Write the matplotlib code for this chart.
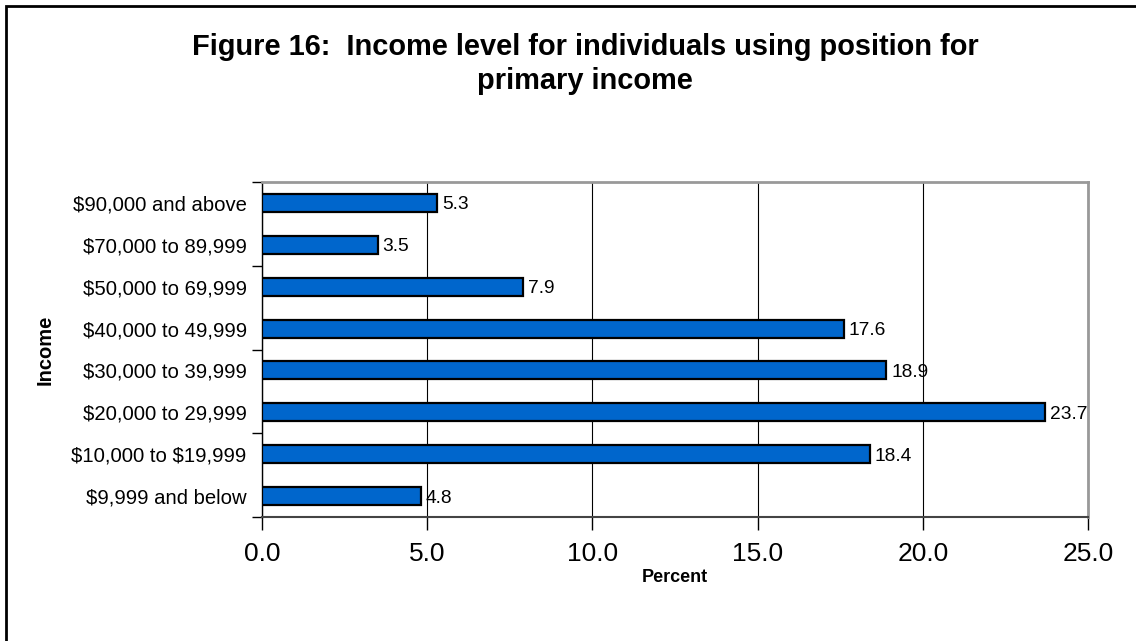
import matplotlib.pyplot as plt
from matplotlib.patches import Rectangle
from matplotlib.ticker import FixedLocator

plt.rcParams['font.family'] = ['Liberation Sans', 'DejaVu Sans']

categories = ['\\$9,999 and below', '\\$10,000 to \\$19,999', '\\$20,000 to 29,999',
              '\\$30,000 to 39,999', '\\$40,000 to 49,999', '\\$50,000 to 69,999',
              '\\$70,000 to 89,999', '\\$90,000 and above']
percent = [4.8, 18.4, 23.7, 18.9, 17.6, 7.9, 3.5, 5.3]
x_ticks = [0, 5, 10, 15, 20, 25]

fig = plt.figure(figsize=(11.36, 6.41), dpi=100)
ax = fig.add_axes([262 / 1136, 1 - 517 / 641, (1088 - 262) / 1136, (517 - 182) / 641])

pos = list(range(len(categories)))
ax.barh(pos, percent, height=0.43, color='#0066CC', edgecolor='black', linewidth=1.6, zorder=3)
for y, v in zip(pos, percent):
    ax.text(v + 0.15, y, f'{v:.1f}', va='center_baseline', ha='left', fontsize=13.8, zorder=4)

ax.set_xlim(0, 25)
ax.set_ylim(-0.5, len(categories) - 0.5)
ax.set_xticks(x_ticks)
ax.set_xticklabels([f'{t:.1f}' for t in x_ticks], fontsize=19)
ax.set_yticks(pos)
ax.set_yticklabels(categories, fontsize=14.6)
ax.tick_params(axis='y', length=0, pad=11)
ax.yaxis.set_minor_locator(FixedLocator([-0.5, 1.5, 3.5, 5.5, 7.5]))
ax.tick_params(axis='y', which='minor', length=7, width=1, color='black')
ax.tick_params(axis='x', length=9, width=1, color='black', pad=9)

ax.grid(axis='x', color='black', linewidth=0.8, zorder=0)
ax.spines['left'].set_color('black')
ax.spines['left'].set_linewidth(1.0)
ax.spines['bottom'].set_color('#444444')
ax.spines['bottom'].set_linewidth(1.5)
ax.spines['top'].set_color('#999999')
ax.spines['top'].set_linewidth(2)
ax.spines['right'].set_color('#999999')
ax.spines['right'].set_linewidth(2)

ax.set_xlabel('Percent', fontsize=13, fontweight='bold', va='center')
ax.xaxis.set_label_coords(0.5, -(578 - 517) / 335)
ax.set_ylabel('Income', fontsize=14.5, fontweight='bold', va='center')
ax.yaxis.set_label_coords(-(262 - 45) / 826, 0.5)

fig.text(585 / 1136, 1 - 64 / 641, 'Figure 16:  Income level for individuals using position for\nprimary income',
         ha='center', va='center', fontsize=20.9, fontweight='bold', linespacing=1.3)

fig.patches.append(Rectangle((6 / 1136, -0.1), 1.2, 1 - 6 / 641 + 0.1, transform=fig.transFigure,
                             fill=False, edgecolor='black', linewidth=2))

fig.savefig('out.png', dpi=100)
